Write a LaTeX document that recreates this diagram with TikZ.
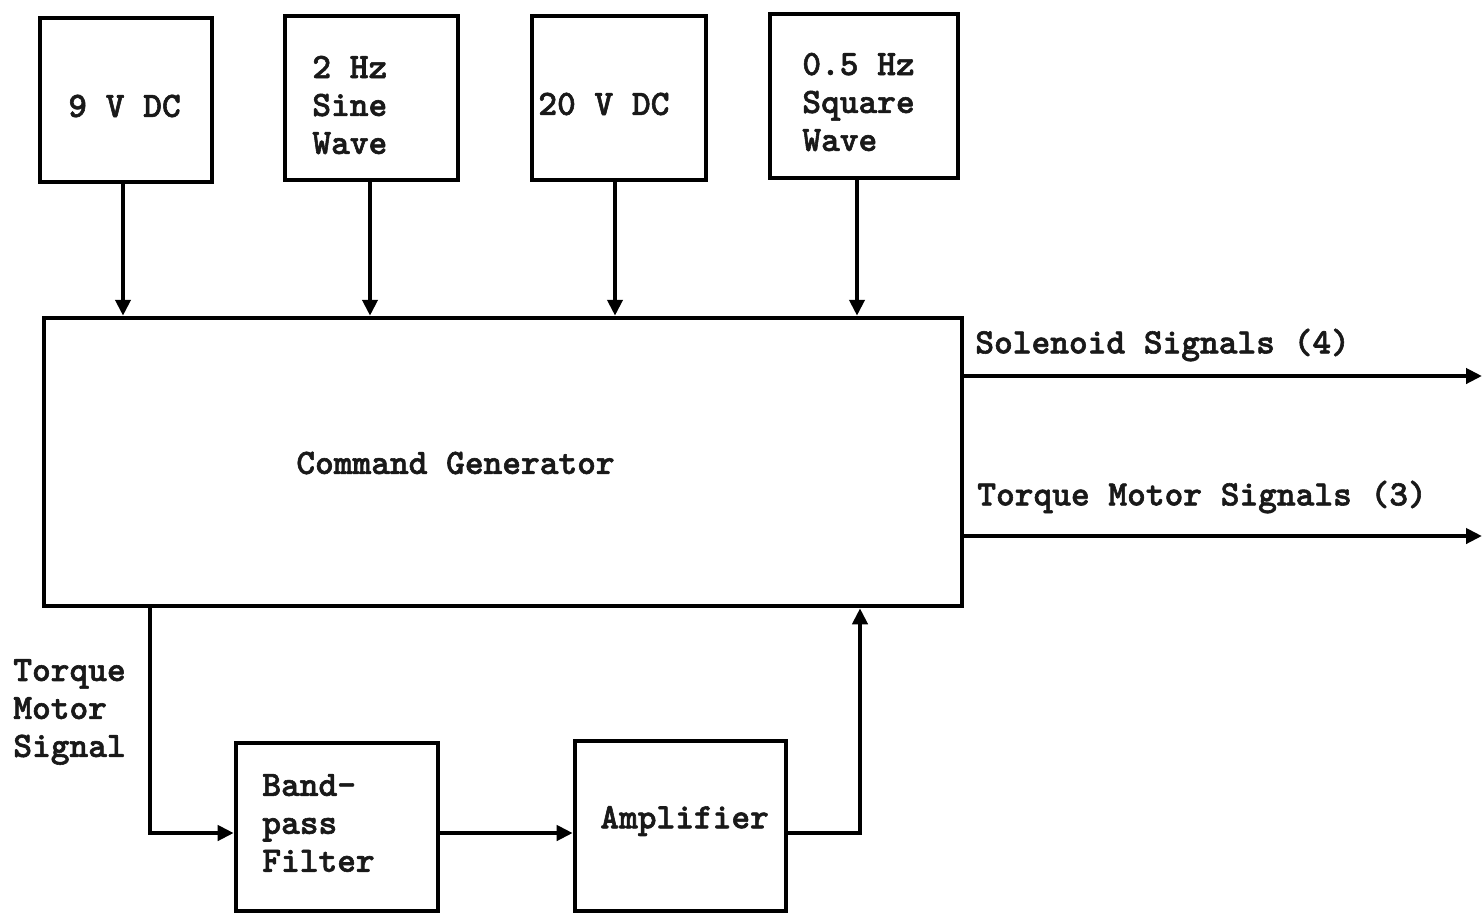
\documentclass[tikz,border=0pt]{standalone}
\usepackage{fontspec}
\newfontfamily\twfont[FakeBold=1.6]{lmmonolt10-bold.otf}
\usetikzlibrary{arrows.meta,calc}
\begin{document}
\begin{tikzpicture}[x=0.02cm,y=-0.02cm,
  box/.style={draw=black,line width=2.6pt,rectangle,inner sep=0pt},
  wire/.style={draw=black,line width=2.4pt},
  arr/.style={wire,-{Triangle[length=0.32cm,width=0.3cm]}},
  lbl/.style={font=\fontsize{20.3}{21.6}\selectfont\twfont,inner sep=0pt,align=left,text=black!90}]
\useasboundingbox (0,0) rectangle (1484,914);
% boxes
\node[box,minimum width=3.44cm,minimum height=3.28cm] (a) at (126,100) {};
\node[box,minimum width=3.46cm,minimum height=3.28cm] (b) at (371.5,98) {};
\node[box,minimum width=3.48cm,minimum height=3.28cm] (c) at (619,98) {};
\node[box,minimum width=3.76cm,minimum height=3.28cm] (d) at (864,96) {};
\node[box,minimum width=18.36cm,minimum height=5.76cm] (cmd) at (503,462) {};
\node[box,minimum width=4.04cm,minimum height=3.36cm] (bp) at (337,827) {};
\node[box,minimum width=4.22cm,minimum height=3.40cm] (amp) at (680.5,826) {};
% texts
\node[lbl,anchor=west] (ta) at (68,106) {9 V DC};
\node[lbl,anchor=west] (tb) at (312,105) {2 Hz\\Sine\\Wave};
\node[lbl,anchor=west] (tc) at (538,104) {20 V DC};
\node[lbl,anchor=west] (td) at (802,102) {0.5 Hz\\Square\\Wave};
\node[lbl,anchor=west] (tcmd) at (296,463) {Command Generator};
\node[lbl,anchor=west] (tsol) at (975,345) {Solenoid Signals (4)};
\node[lbl,anchor=west] (ttq) at (977,497) {Torque Motor Signals (3)};
\node[lbl,anchor=west] (tfb) at (13,712) {Torque\\Motor\\Signal};
\node[lbl,anchor=west] (tbp) at (262,823) {Band-\\pass\\Filter};
\node[lbl,anchor=west] (tamp) at (600,821) {Amplifier};
% helper coordinates
\coordinate (solend) at (1482,376);
\coordinate (tqend) at (1482,536);
\coordinate (tapx) at (150,0);
\coordinate (retx) at (860,0);
\coordinate (fby) at (0,833);
% connectors
\draw[arr] ([xshift=-0.06cm]a.south) -- ([xshift=-0.06cm]a.south |- cmd.north);
\draw[arr] ([xshift=-0.03cm]b.south) -- ([xshift=-0.03cm]b.south |- cmd.north);
\draw[arr] ([xshift=-0.08cm]c.south) -- ([xshift=-0.08cm]c.south |- cmd.north);
\draw[arr] ([xshift=-0.14cm]d.south) -- ([xshift=-0.14cm]d.south |- cmd.north);
\draw[arr] (cmd.east |- solend) -- (solend);
\draw[arr] (cmd.east |- tqend) -- (tqend);
\draw[arr] (cmd.south -| tapx) -- (tapx |- fby) -- (bp.west |- fby);
\draw[arr] (bp.east |- fby) -- (amp.west |- fby);
\draw[arr] (amp.east |- fby) -- (retx |- fby) -- (cmd.south -| retx);
\end{tikzpicture}
\end{document}
